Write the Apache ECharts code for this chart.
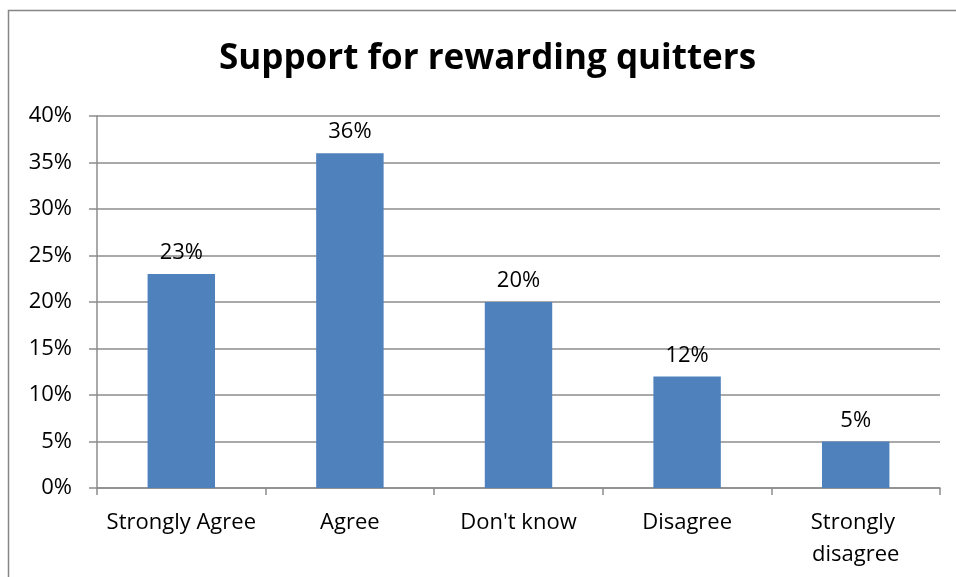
<!DOCTYPE html>
<html>
<head>
<meta charset="utf-8">
<script src="https://cdn.jsdelivr.net/npm/echarts@6/dist/echarts.min.js"></script>
<style>
  html, body { margin: 0; padding: 0; background: #fff; }
  #chart { width: 956px; height: 577px; }
</style>
</head>
<body>
<div id="chart"></div>
<script>
// Survey responses: share of respondents per answer (percent)
const categories = ['Strongly Agree', 'Agree', "Don't know", 'Disagree', 'Strongly disagree'];
const shares = [23, 36, 20, 12, 5];
const yTicks = { min: 0, max: 40, step: 5 };

const FONT = '"Open Sans", sans-serif';
const AXIS_GREY = '#8c8c8c';
const LABEL_SIZE = 22;

const chart = echarts.init(document.getElementById('chart'), null, { renderer: 'canvas' });

chart.setOption({
  animation: false,
  backgroundColor: '#fff',
  title: {
    text: 'Support for rewarding quitters',
    left: 214,
    top: 37,
    textStyle: { fontFamily: FONT, fontWeight: 'bold', fontSize: 35, color: '#000' }
  },
  graphic: [{
    type: 'rect',
    shape: { x: 8.5, y: 10.5, width: 1000, height: 1000 },
    style: { fill: 'none', stroke: '#868686', lineWidth: 1.5 },
    silent: true
  }],
  grid: { left: 97, right: 16, top: 116, bottom: 89, containLabel: false },
  xAxis: {
    type: 'category',
    data: categories,
    axisLine: { show: true, lineStyle: { color: AXIS_GREY, width: 1.5 } },
    axisTick: { show: true, alignWithLabel: false, length: 7, lineStyle: { color: AXIS_GREY, width: 1.5 } },
    axisLabel: {
      margin: 19,
      fontFamily: FONT,
      fontSize: LABEL_SIZE,
      color: '#000',
      lineHeight: 32,
      width: 165,
      overflow: 'break',
      interval: 0
    }
  },
  yAxis: {
    type: 'value',
    min: yTicks.min,
    max: yTicks.max,
    interval: yTicks.step,
    axisLine: { show: true, lineStyle: { color: AXIS_GREY, width: 1.5 } },
    axisTick: { show: true, length: 8, lineStyle: { color: AXIS_GREY, width: 1.5 } },
    splitLine: { show: true, lineStyle: { color: AXIS_GREY, width: 1.5 } },
    axisLabel: {
      margin: 25,
      fontFamily: FONT,
      fontSize: LABEL_SIZE,
      color: '#000',
      formatter: v => v + '%'
    }
  },
  series: [{
    type: 'bar',
    data: shares,
    barWidth: '40%',
    itemStyle: { color: '#4f81bd' },
    label: {
      show: true,
      position: 'top',
      distance: 10,
      fontFamily: FONT,
      fontSize: LABEL_SIZE,
      color: '#000',
      formatter: p => p.value + '%'
    }
  }]
});
</script>
</body>
</html>
